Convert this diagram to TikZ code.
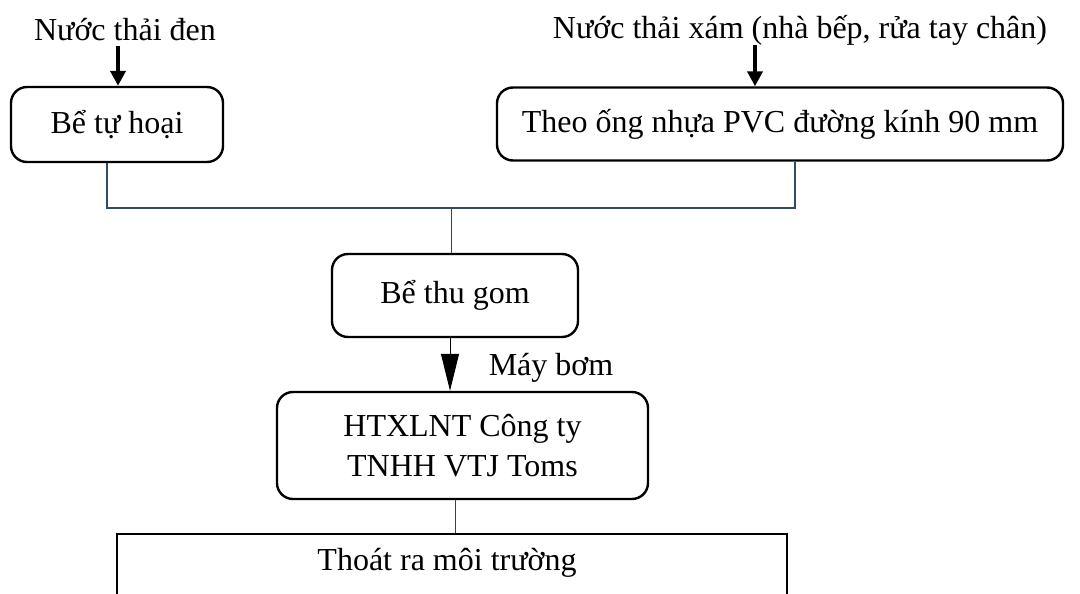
\documentclass[tikz,border=0pt]{standalone}
\usepackage{fontspec}
\setmainfont{Liberation Serif}
\usetikzlibrary{arrows.meta}
\definecolor{pipe}{RGB}{50,74,104}
\tikzset{
  x=1pt, y=-1pt,
  txt/.style={font=\fontsize{32}{40}\selectfont, inner sep=0pt, align=center},
  rbox/.style={draw=black, line width=2.4pt, rounded corners=16pt, inner sep=0pt,
    font=\fontsize{32}{40}\selectfont, align=center},
  bigarrow/.style={line width=4pt, -{Triangle[length=15pt,width=15pt]}},
  pumparrow/.style={line width=1pt, -{Triangle[length=37pt,width=18pt]}},
  thinline/.style={line width=1pt, draw=black!75},
  pipeline/.style={line width=2pt, draw=pipe},
}
\begin{document}
\begin{tikzpicture}
\useasboundingbox (0,0) rectangle (1080,594);
\clip (0,0) rectangle (1080,594);
\node[txt] (t1) at (125,30) {Nước thải đen};
\node[txt] (t2) at (800,30) {Nước thải xám (nhà bếp, rửa tay chân)};
\node[rbox, minimum width=212pt, minimum height=75pt] (b1) at (117,124.5) {Bể tự hoại};
\node[rbox, minimum width=566pt, minimum height=73pt] (b2) at (780,124) {Theo ống nhựa PVC đường kính 90 mm};
\node[rbox, minimum width=246pt, minimum height=83pt] (b3) at (455,295.5) {Bể thu gom};
\node[rbox, minimum width=371pt, minimum height=107pt] (b4) at (462.5,445.5) {HTXLNT Công ty\\TNHH VTJ Toms};
\node[draw=black, line width=2.4pt, minimum width=670pt, minimum height=120pt, anchor=north] (b5) at (452,533) {};
\node[txt] (t5) at (447,563) {Thoát ra môi trường};
\node[txt] (pump) at (551,368) {Máy bơm};
\coordinate (a1) at (118,46);
\coordinate (a2) at (755,45);
\draw[bigarrow] (a1) -- (b1.north -| a1);
\draw[bigarrow] (a2) -- (b2.north -| a2);
\coordinate (jl) at (107,208);
\coordinate (jr) at (795,208);
\coordinate (jc) at (451,208);
\draw[pipeline] (b1.south -| jl) -- (jl) -- (jr) -- (b2.south -| jr);
\draw[thinline] (jc) -- (b3.north -| jc);
\coordinate (pc) at (450,337);
\draw[pumparrow] (b3.south -| pc) -- (b4.north -| pc);
\coordinate (oc) at (455,500);
\draw[thinline] (b4.south -| oc) -- (b5.north -| oc);
\end{tikzpicture}
\end{document}
